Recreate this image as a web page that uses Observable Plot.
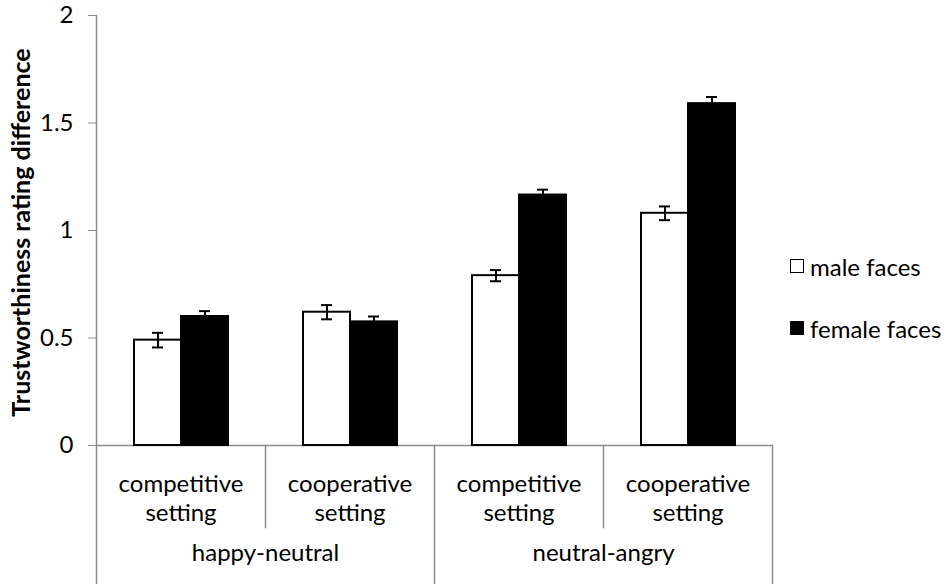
<!DOCTYPE html>
<html><head><meta charset="utf-8">
<script src="https://cdn.jsdelivr.net/npm/d3@7"></script>
<script src="https://cdn.jsdelivr.net/npm/@observablehq/plot@0.6"></script>
<style>
body{margin:0;background:#fff;font-family:Lato,"Open Sans",sans-serif;}
#wrap{position:relative;width:950px;height:584px;}
#legend{position:absolute;left:790px;top:251px;font-size:24px;color:#000;}
.item{display:flex;align-items:center;height:30px;margin-bottom:32px;}
.sw{width:14px;height:14px;border:1.5px solid #000;margin-right:6px;box-sizing:border-box;}
</style></head><body><div id="wrap"><div id="legend"></div></div>
<script>
const groups = ["happy-neutral", "neutral-angry"];
const settings = ["competitive\nsetting", "cooperative\nsetting"];
const sexes = ["male faces", "female faces"];
const sexColors = ["white", "black"];
const maleValues = [0.49, 0.62, 0.79, 1.08];
const femaleValues = [0.60, 0.575, 1.165, 1.59];
const maleErrors = [0.034, 0.033, 0.026, 0.032];
const femaleErrors = [0.025, 0.025, 0.025, 0.031];
const yTicks = [0, 0.5, 1, 1.5, 2];
const yLabel = "Trustworthiness rating difference";

const rows = [];
const conds = [];
const settingRows = [];
const groupRows = [];
groups.forEach((g, gi) => settings.forEach((s, si) => {
  const i = gi * 2 + si;
  const cond = g + "|" + s;
  conds.push(cond);
  settingRows.push({cond, label: s});
  if (si === 0) groupRows.push({cond, label: g});
  rows.push({cond, sex: sexes[0], value: maleValues[i], err: maleErrors[i]});
  rows.push({cond, sex: sexes[1], value: femaleValues[i], err: femaleErrors[i]});
}));

const gray = "#8c8c8c";
const plot = Plot.plot({
  width: 950, height: 584,
  marginLeft: 95, marginRight: 177, marginTop: 15, marginBottom: 139,
  style: {fontFamily: "Lato, 'Open Sans', sans-serif", fontSize: "24px", color: "black", background: "white", overflow: "visible"},
  fx: {domain: conds, padding: 0, axis: null},
  x: {domain: sexes, paddingInner: 0, paddingOuter: 0.766, axis: null},
  y: {domain: [0, 2], axis: null},
  color: {domain: sexes, range: sexColors},
  marks: [
    Plot.axisY({ticks: yTicks, tickFormat: d => String(d), tickSize: 8, tickPadding: 15, stroke: gray, fill: "black", fontSize: 24, label: null}),
    Plot.ruleY([0], {stroke: gray, strokeWidth: 1.5}),
    Plot.frame({anchor: "left", fx: conds[0], insetTop: 0, insetBottom: -139, stroke: gray, strokeWidth: 1.5}),
    Plot.frame({anchor: "left", fx: conds[2], insetTop: 430, insetBottom: -139, stroke: gray, strokeWidth: 1.5}),
    Plot.frame({anchor: "right", fx: conds[3], insetTop: 430, insetBottom: -139, stroke: gray, strokeWidth: 1.5}),
    Plot.frame({anchor: "left", fx: conds[1], insetTop: 430, insetBottom: -82, stroke: gray, strokeWidth: 1.5}),
    Plot.frame({anchor: "left", fx: conds[3], insetTop: 430, insetBottom: -82, stroke: gray, strokeWidth: 1.5}),
    Plot.barY(rows, {fx: "cond", x: "sex", y: "value", fill: "sex", stroke: "black", strokeWidth: 2}),
    Plot.ruleX(rows, {fx: "cond", x: "sex", y1: d => d.value - d.err, y2: d => d.value + d.err, stroke: "black", strokeWidth: 2}),
    Plot.tickY(rows, {fx: "cond", x: "sex", y: d => d.value - d.err, insetLeft: 18, insetRight: 18, stroke: "black", strokeWidth: 2}),
    Plot.tickY(rows, {fx: "cond", x: "sex", y: d => d.value + d.err, insetLeft: 18, insetRight: 18, stroke: "black", strokeWidth: 2}),
    Plot.text(settingRows, {fx: "cond", text: "label", frameAnchor: "bottom", dy: 52, lineAnchor: "middle", lineHeight: 1.2, fontSize: 24, fill: "black"}),
    Plot.text(groupRows, {fx: "cond", text: "label", frameAnchor: "bottom-right", textAnchor: "middle", dy: 115, fontSize: 24, fill: "black"}),
    Plot.text([yLabel], {text: d => d, frameAnchor: "left", facetAnchor: "left", textAnchor: "middle", rotate: -90, dx: -75, dy: 2, fontWeight: "bold", fontSize: 25, fill: "black"})
  ]
});
document.getElementById("wrap").prepend(plot);

const legend = document.getElementById("legend");
sexes.forEach((s, i) => {
  const item = document.createElement("div");
  item.className = "item";
  const sw = document.createElement("div");
  sw.className = "sw";
  sw.style.background = sexColors[i];
  const t = document.createElement("span");
  t.textContent = s;
  item.append(sw, t);
  legend.append(item);
});
</script>
</body></html>
